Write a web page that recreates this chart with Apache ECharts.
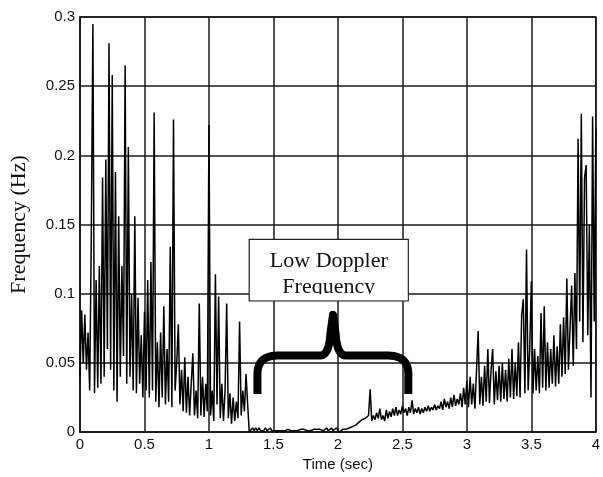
<!DOCTYPE html>
<html>
<head>
<meta charset="utf-8">
<script src="https://cdn.jsdelivr.net/npm/echarts@6/dist/echarts.min.js"></script>
<style>
html,body{margin:0;padding:0;background:#fff;}
#chart{width:603px;height:477px;}
</style>
</head>
<body>
<div id="chart"></div>
<script>
// ---- data ----
const timeStep = 0.0125; // sampling interval of the trace (sec)
const freqValues = [
  0.040,0.088,0.050,0.085,0.045,0.072,0.030,0.140,0.295,0.028,
  0.110,0.032,0.120,0.035,0.184,0.040,0.197,0.060,0.281,0.045,
  0.258,0.030,0.188,0.022,0.156,0.040,0.120,0.055,0.265,0.035,
  0.206,0.040,0.100,0.030,0.156,0.028,0.097,0.035,0.070,0.025,
  0.087,
  0.030,0.110,0.025,0.123,0.030,0.231,0.022,0.065,0.018,0.072,
  0.025,0.091,0.020,0.060,0.022,0.134,0.018,0.226,0.030,0.050,
  0.078,0.020,0.045,0.015,0.054,0.014,0.040,0.012,0.035,0.057,
  0.012,0.030,0.010,0.093,0.012,0.040,0.011,0.035,0.015,0.222,
  0.012,0.030,0.008,0.114,0.020,0.098,0.010,0.035,0.008,0.030,
  0.093,0.010,0.028,0.006,0.025,0.008,0.022,0.010,0.080,0.012,
  0.030,0.015,0.042,0.020,
  0.000,0.001,0.003,0.001,0.003,0.001,0.003,0.001,0.002,0.001,
  0.003,0.001,0.002,0.003,0.001,0.002,0.001,0.002,0.001,0.001,
  0.001,0.002,0.001,0.001,0.002,0.001,0.001,0.002,0.001,0.002,
  0.001,0.001,0.002,0.001,0.002,0.001,0.001,0.002,0.001,0.001,
  0.002,0.001,0.002,0.001,0.002,0.003,0.001,0.002,0.003,0.001,
  0.002,0.003,0.001,0.002,0.003,0.002,0.000,0.001,0.002,0.001,
  0.002,0.003,0.003,0.004,0.004,0.004,0.005,0.005,0.007,0.006,
  0.009,0.008,0.010,0.009,0.012,0.031,0.008,0.012,0.009,0.014,
  0.010,0.017,0.009,0.012,0.008,0.016,0.010,0.015,0.011,0.017,
  0.012,0.018,0.012,0.016,0.013,0.019,0.014,0.017,0.012,0.018,
  0.014,0.023,0.013,0.017,0.014,0.018,0.013,0.017,0.014,0.018,
  0.015,0.019,0.015,0.018,0.016,0.020,0.016,0.019,0.017,0.022,
  0.016,0.024,0.018,0.022,0.017,0.025,0.018,0.027,0.019,0.024,
  0.020,0.028,0.018,0.032,0.020,0.037,
  0.018,0.040,0.020,0.035,0.017,0.045,0.073,0.020,0.040,0.019,
  0.048,0.022,0.060,0.021,0.045,0.060,0.020,0.044,0.023,0.048,
  0.022,0.050,0.024,0.045,0.022,0.053,0.025,0.060,0.024,0.050,
  0.026,0.065,0.025,0.085,0.096,0.028,0.132,0.030,0.060,0.109,
  0.028,0.060,0.030,0.055,0.028,0.086,0.032,0.091,0.030,0.065,
  0.032,0.060,0.035,0.070,0.033,0.062,0.035,0.078,0.040,0.083,
  0.042,0.111,0.045,0.075,0.106,0.048,0.115,0.060,0.212,0.080,
  0.230,0.065,0.184,0.193,0.070,0.150,0.025,0.228,0.080,0.219
];
const xTicks = ['0','0.5','1','1.5','2','2.5','3','3.5','4'];
const yTicks = ['0','0.05','0.1','0.15','0.2','0.25','0.3'];
const annotationLines = ['Low Doppler', 'Frequency'];

const seriesData = freqValues.map((v, i) => [i * timeStep, v]);

const chart = echarts.init(document.getElementById('chart'), null, {renderer: 'canvas'});
const axisColor = '#1a1a1a';
chart.setOption({
  animation: false,
  backgroundColor: '#fff',
  grid: {left: 80, right: 2, top: 17, bottom: 42, show: true, borderColor: axisColor, borderWidth: 1.5},
  xAxis: {
    type: 'value', min: 0, max: 4, interval: 0.5,
    name: 'Time (sec)', nameLocation: 'middle', nameGap: 22,
    nameTextStyle: {fontFamily: 'Liberation Sans', fontSize: 15, color: '#111'},
    axisLine: {show: true, lineStyle: {color: axisColor, width: 1.5}},
    axisTick: {show: false},
    axisLabel: {fontFamily: 'Liberation Sans', fontSize: 15, color: '#111', margin: 5,
      formatter: v => xTicks[Math.round(v / 0.5)]},
    splitLine: {show: true, lineStyle: {color: axisColor, width: 1.5}}
  },
  yAxis: {
    type: 'value', min: 0, max: 0.3, interval: 0.05,
    name: 'Frequency (Hz)', nameLocation: 'middle', nameGap: 50, nameRotate: 90,
    nameTextStyle: {fontFamily: 'Liberation Serif', fontSize: 22, color: '#111'},
    axisLine: {show: true, lineStyle: {color: axisColor, width: 1.5}},
    axisTick: {show: false},
    axisLabel: {fontFamily: 'Liberation Sans', fontSize: 15, color: '#111', margin: 5,
      formatter: v => yTicks[Math.round(v / 0.05)]},
    splitLine: {show: true, lineStyle: {color: axisColor, width: 1.5}}
  },
  series: [{
    type: 'line', data: seriesData, showSymbol: false, symbol: 'none',
    lineStyle: {color: '#000', width: 1.5}, z: 3
  }]
});

// ---- annotation (box + brace), positioned via data coordinates ----
const px = (t, v) => chart.convertToPixel({gridIndex: 0}, [t, v]);
const boxTL = px(1.312, 0.1393), boxBR = px(2.546, 0.0948);
const [xl, yEnd] = px(1.376, 0.0275);
const [xr] = px(2.546, 0.0275);
const [xt, yTip] = px(1.962, 0.0847);
const [, yBar] = px(0, 0.0553);
const bw = boxBR[0] - boxTL[0], bh = boxBR[1] - boxTL[1];
const cx = (boxTL[0] + boxBR[0]) / 2;

// baseline offset of a 'middle'-aligned line of the box font
const annFont = '22px "Liberation Serif"';
const mctx = document.createElement('canvas').getContext('2d');
mctx.font = annFont;
mctx.textBaseline = 'middle';
let baseOff = mctx.measureText('F').actualBoundingBoxDescent;
if (!(baseOff > 0 && baseOff < 15)) baseOff = 7.4;
const base2 = boxTL[1] + 54;          // baseline of second line
const line2Y = base2 - baseOff, line1Y = line2Y - 26;

function quad(a, c, b, n) {
  const out = [];
  for (let k = 1; k <= n; k++) {
    const s = k / n, u = 1 - s;
    out.push([u*u*a[0] + 2*u*s*c[0] + s*s*b[0], u*u*a[1] + 2*u*s*c[1] + s*s*b[1]]);
  }
  return out;
}
let brace = [[xl, yEnd], [xl, yBar + 17]];
brace = brace.concat(quad([xl, yBar + 17], [xl + 1, yBar], [xl + 20, yBar], 12));
brace.push([xt - 13, yBar]);
brace = brace.concat(quad([xt - 13, yBar], [xt - 4, yBar], [xt - 2.6, yBar - 22], 10));
brace.push([xt, yTip]);
brace.push([xt + 2.6, yBar - 22]);
brace = brace.concat(quad([xt + 2.6, yBar - 22], [xt + 4, yBar], [xt + 13, yBar], 10));
brace.push([xr - 20, yBar]);
brace = brace.concat(quad([xr - 20, yBar], [xr - 1, yBar], [xr, yBar + 17], 12));
brace.push([xr, yEnd]);

chart.setOption({
  graphic: [
    {type: 'rect', z: 10, shape: {x: boxTL[0], y: boxTL[1], width: bw, height: bh},
      style: {fill: '#fff', stroke: '#222', lineWidth: 1.2}},
    {type: 'text', z: 11, x: cx, y: line1Y,
      style: {text: annotationLines[0], font: annFont, fill: '#111', align: 'center', verticalAlign: 'middle'}},
    {type: 'text', z: 11, x: cx, y: line2Y,
      style: {text: annotationLines[1], font: annFont, fill: '#111', align: 'center', verticalAlign: 'middle'}},
    {type: 'rect', z: 12, shape: {x: boxTL[0] + 1, y: base2 + 0.8, width: bw - 2, height: boxBR[1] - base2 - 1.6},
      style: {fill: '#fff'}},
    {type: 'polyline', z: 10, shape: {points: brace},
      style: {fill: null, stroke: '#000', lineWidth: 8, lineJoin: 'round', lineCap: 'butt'}}
  ]
});
</script>
</body>
</html>
